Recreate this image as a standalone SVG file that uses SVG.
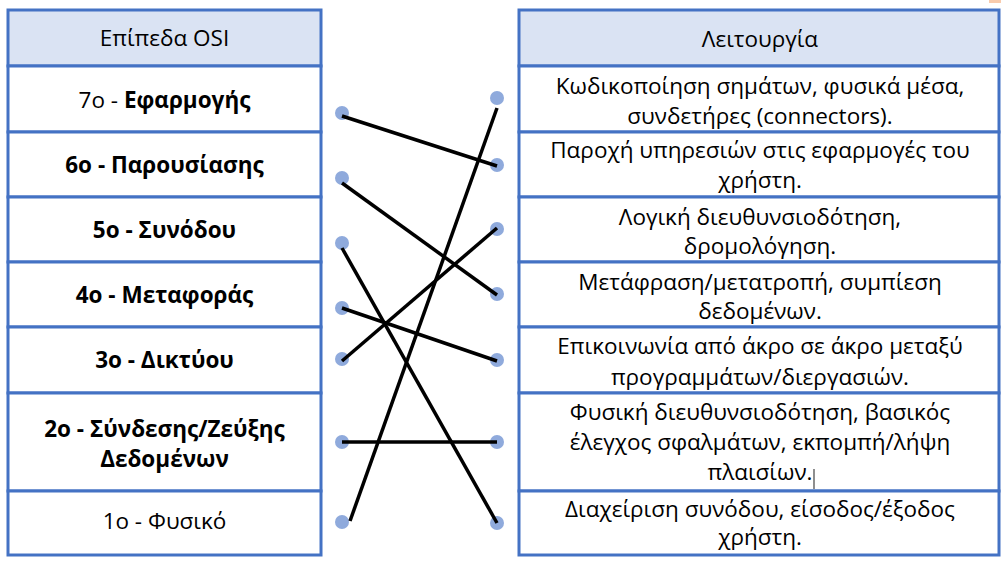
<svg xmlns="http://www.w3.org/2000/svg" width="1001" height="562" viewBox="0 0 1001 562">
<style>
.cell{fill:#fff;stroke:#4472C4;stroke-width:3}
.head{fill:#DAE3F3;stroke:#4472C4;stroke-width:3}
text{font-family:"Open Sans","Noto Sans","DejaVu Sans",sans-serif;font-size:22.5px;fill:#000;text-anchor:middle}
.b{font-weight:700}
.dot{fill:#8FAADC}
.ln{stroke:#000;stroke-width:3.5;stroke-linecap:butt}
</style>
<rect x="989" y="0" width="12" height="3" fill="#F8CBAD"/>
<g id="left-table">
<g id="osi-header"><rect class="head" x="8" y="10" width="313" height="56"/><text x="164.5" y="46">Επίπεδα OSI</text></g>
<g id="osi-7"><rect class="cell" x="8" y="66" width="313" height="66"/><text x="164.5" y="108">7ο - <tspan class="b">Εφαρμογής</tspan></text></g>
<g id="osi-6"><rect class="cell" x="8" y="132" width="313" height="65"/><text x="164.5" y="173" class="b">6ο - Παρουσίασης</text></g>
<g id="osi-5"><rect class="cell" x="8" y="197" width="313" height="65"/><text x="164.5" y="238" class="b">5ο - Συνόδου</text></g>
<g id="osi-4"><rect class="cell" x="8" y="262" width="313" height="65"/><text x="164.5" y="303" class="b">4ο - Μεταφοράς</text></g>
<g id="osi-3"><rect class="cell" x="8" y="327" width="313" height="66"/><text x="164.5" y="368" class="b">3ο - Δικτύου</text></g>
<g id="osi-2"><rect class="cell" x="8" y="393" width="313" height="98"/><text x="164.5" y="437" class="b">2ο - Σύνδεσης/Ζεύξης</text><text x="164.5" y="467" class="b">Δεδομένων</text></g>
<g id="osi-1"><rect class="cell" x="8" y="491" width="313" height="64"/><text x="164.5" y="529">1ο - Φυσικό</text></g>
</g>
<g id="right-table">
<g id="fn-header"><rect class="head" x="519" y="10" width="480" height="56"/><text x="760" y="47">Λειτουργία</text></g>
<g id="fn-1"><rect class="cell" x="519" y="66" width="480" height="66"/><text x="760" y="94">Κωδικοποίηση σημάτων, φυσικά μέσα,</text><text x="760" y="124">συνδετήρες (connectors).</text></g>
<g id="fn-2"><rect class="cell" x="519" y="132" width="480" height="65"/><text x="760" y="158">Παροχή υπηρεσιών στις εφαρμογές του</text><text x="760" y="188">χρήστη.</text></g>
<g id="fn-3"><rect class="cell" x="519" y="197" width="480" height="65"/><text x="760" y="225">Λογική διευθυνσιοδότηση,</text><text x="760" y="254">δρομολόγηση.</text></g>
<g id="fn-4"><rect class="cell" x="519" y="262" width="480" height="65"/><text x="760" y="290">Μετάφραση/μετατροπή, συμπίεση</text><text x="760" y="319">δεδομένων.</text></g>
<g id="fn-5"><rect class="cell" x="519" y="327" width="480" height="66"/><text x="760" y="354">Επικοινωνία από άκρο σε άκρο μεταξύ</text><text x="760" y="385">προγραμμάτων/διεργασιών.</text></g>
<g id="fn-6"><rect class="cell" x="519" y="393" width="480" height="98"/><text x="760" y="420">Φυσική διευθυνσιοδότηση, βασικός</text><text x="760" y="450">έλεγχος σφαλμάτων, εκπομπή/λήψη</text><text x="760" y="480">πλαισίων.</text><line x1="814" y1="469" x2="814" y2="489" stroke="#444" stroke-width="1.2"/></g>
<g id="fn-7"><rect class="cell" x="519" y="491" width="480" height="64"/><text x="760" y="517">Διαχείριση συνόδου, είσοδος/έξοδος</text><text x="760" y="545">χρήστη.</text></g>
</g>
<g id="dots">
<circle class="dot" cx="342" cy="113" r="7"/><circle class="dot" cx="342" cy="178" r="7"/><circle class="dot" cx="342" cy="243" r="7"/><circle class="dot" cx="342" cy="308" r="7"/><circle class="dot" cx="342" cy="359" r="7"/><circle class="dot" cx="342" cy="442" r="7"/><circle class="dot" cx="342" cy="522" r="7"/>
<circle class="dot" cx="497" cy="98" r="7"/><circle class="dot" cx="497" cy="165" r="7"/><circle class="dot" cx="497" cy="229" r="7"/><circle class="dot" cx="497" cy="294" r="7"/><circle class="dot" cx="497" cy="360" r="7"/><circle class="dot" cx="497" cy="442" r="7"/><circle class="dot" cx="497" cy="523" r="7"/>
</g>
<g id="connectors">
<line class="ln" x1="342" y1="116" x2="497" y2="166"/>
<line class="ln" x1="342" y1="183" x2="497" y2="295"/>
<line class="ln" x1="342" y1="248" x2="497" y2="523"/>
<line class="ln" x1="342" y1="308" x2="497" y2="361"/>
<line class="ln" x1="342" y1="361" x2="497" y2="228"/>
<line class="ln" x1="342" y1="442" x2="497" y2="442" stroke-width="5"/>
<line class="ln" x1="350" y1="521" x2="497" y2="108"/>
</g>
</svg>
